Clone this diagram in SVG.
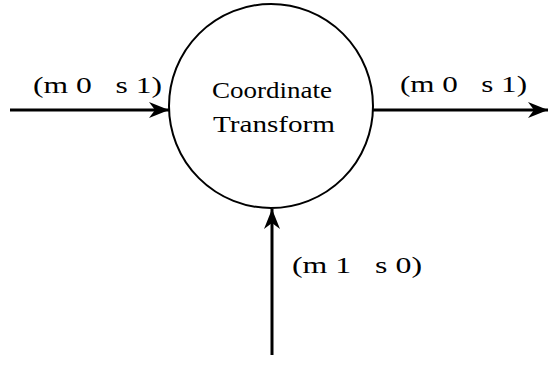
<svg xmlns="http://www.w3.org/2000/svg" width="548" height="366" viewBox="0 0 548 366">
<defs>
<marker id="ah" viewBox="0 0 20 16" refX="20" refY="8" markerWidth="20" markerHeight="16" markerUnits="userSpaceOnUse" orient="auto">
<path d="M0,0 L20,8 L0,16 L6,8 Z" fill="#000"/>
</marker>
</defs>
<style>
text{font-family:"Liberation Serif","Times New Roman",serif;font-size:24px;fill:#000;white-space:pre}
.edge{stroke:#000;stroke-width:3;fill:none}
</style>
<rect width="548" height="366" fill="#fff"/>
<g id="node-transform">
<circle cx="271" cy="106" r="102" fill="none" stroke="#000" stroke-width="2"/>
<text x="212" y="98" textLength="120" lengthAdjust="spacingAndGlyphs">Coordinate</text>
<text x="213" y="132" textLength="122" lengthAdjust="spacingAndGlyphs">Transform</text>
</g>
<g id="connectors">
<line class="edge" x1="10" y1="110" x2="169" y2="110" marker-end="url(#ah)"/>
<line class="edge" x1="373" y1="110" x2="548" y2="110" marker-end="url(#ah)"/>
<line class="edge" x1="272" y1="355" x2="272" y2="209" marker-end="url(#ah)"/>
</g>
<g id="labels">
<text x="33" y="93" textLength="129" lengthAdjust="spacingAndGlyphs">(m 0   s 1)</text>
<text x="400" y="92" textLength="127" lengthAdjust="spacingAndGlyphs">(m 0   s 1)</text>
<text x="292" y="273" textLength="130" lengthAdjust="spacingAndGlyphs">(m 1   s 0)</text>
</g>
</svg>
